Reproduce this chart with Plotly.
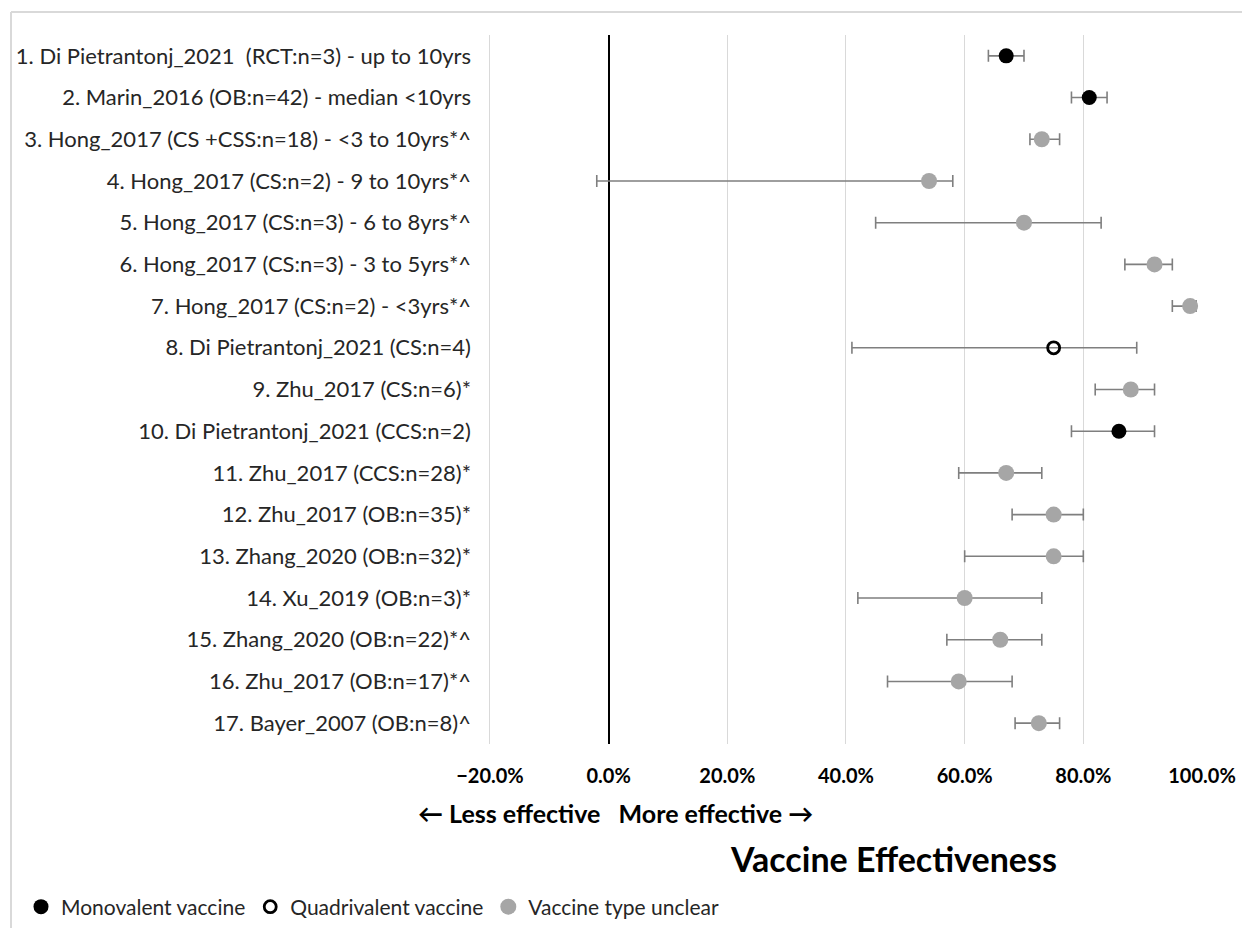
import plotly.graph_objects as go

# ---- data ----
study_labels = [
    "1. Di Pietrantonj_2021  (RCT:n=3) - up to 10yrs",
    "2. Marin_2016 (OB:n=42) - median <10yrs",
    "3. Hong_2017 (CS +CSS:n=18) - <3 to 10yrs*^",
    "4. Hong_2017 (CS:n=2) - 9 to 10yrs*^",
    "5. Hong_2017 (CS:n=3) - 6 to 8yrs*^",
    "6. Hong_2017 (CS:n=3) - 3 to 5yrs*^",
    "7. Hong_2017 (CS:n=2) - <3yrs*^",
    "8. Di Pietrantonj_2021 (CS:n=4)",
    "9. Zhu_2017 (CS:n=6)*",
    "10. Di Pietrantonj_2021 (CCS:n=2)",
    "11. Zhu_2017 (CCS:n=28)*",
    "12. Zhu_2017 (OB:n=35)*",
    "13. Zhang_2020 (OB:n=32)*",
    "14. Xu_2019 (OB:n=3)*",
    "15. Zhang_2020 (OB:n=22)*^",
    "16. Zhu_2017 (OB:n=17)*^",
    "17. Bayer_2007 (OB:n=8)^",
]
ve_pct = [67, 81, 73, 54, 70, 92, 98, 75, 88, 86, 67, 75, 75, 60, 66, 59, 72.5]
lo_pct = [64, 78, 71, -2, 45, 87, 95, 41, 82, 78, 59, 68, 60, 42, 57, 47, 68.5]
hi_pct = [70, 84, 76, 58, 83, 95, 99, 89, 92, 92, 73, 80, 80, 73, 73, 68, 76]
vaccine_type = ["Mono", "Mono", "Unclear", "Unclear", "Unclear", "Unclear", "Unclear",
                "Quad", "Unclear", "Mono", "Unclear", "Unclear", "Unclear", "Unclear",
                "Unclear", "Unclear", "Unclear"]
x_ticks = [-0.2, 0.0, 0.2, 0.4, 0.6, 0.8, 1.0]

groups = [
    ("Mono", "Monovalent vaccine", dict(symbol="circle", size=15, color="#000000")),
    ("Quad", "Quadrivalent vaccine", dict(symbol="circle-open", size=12, color="#000000",
                                          line=dict(width=2.8, color="#000000"))),
    ("Unclear", "Vaccine type unclear", dict(symbol="circle", size=16, color="#a6a6a6")),
]

FONT = "Lato"
fig = go.Figure()
for key, name, marker in groups:
    idx = [i for i, t in enumerate(vaccine_type) if t == key]
    fig.add_trace(go.Scatter(
        x=[ve_pct[i] / 100 for i in idx],
        y=[study_labels[i] for i in idx],
        mode="markers",
        name=name,
        marker=marker,
        error_x=dict(type="data", symmetric=False,
                     array=[(hi_pct[i] - ve_pct[i]) / 100 for i in idx],
                     arrayminus=[(ve_pct[i] - lo_pct[i]) / 100 for i in idx],
                     color="#7f7f7f", thickness=1.6, width=6),
    ))

W, H = 1242, 928
L, R, T, B = 487, 40, 35, 184
plot_w = W - L - R
plot_h = H - T - B

def px_x(p):
    return (p - L) / plot_w

def px_y(p):
    return (H - B - p) / plot_h

fig.update_layout(
    width=W, height=H,
    margin=dict(l=L, r=R, t=T, b=B, autoexpand=False),
    paper_bgcolor="white", plot_bgcolor="white",
    font=dict(family=FONT, color="#262626"),
    showlegend=True,
    legend=dict(orientation="h", x=px_x(21), xanchor="left", y=px_y(907), yanchor="middle",
                font=dict(size=21, family=FONT, color="#262626"),
                itemwidth=30, tracegroupgap=0, bgcolor="rgba(0,0,0,0)"),
    xaxis=dict(range=[-0.205, 1.0], tickvals=x_ticks, tickformat=".1%",
               showgrid=True, gridcolor="#d9d9d9", gridwidth=1,
               zeroline=True, zerolinecolor="#000000", zerolinewidth=2.2,
               showline=False, ticks="", ticklabelstandoff=18,
               tickfont=dict(family=FONT, size=20, color="#000000", weight="bold"),
               fixedrange=True),
    yaxis=dict(type="category", categoryorder="array", categoryarray=study_labels,
               range=[len(study_labels) - 0.5, -0.5],
               showgrid=False, zeroline=False, showline=False, ticks="",
               ticklabelstandoff=15,
               tickfont=dict(family=FONT, size=22, color="#262626"),
               fixedrange=True),
    annotations=[
        dict(text="\u2190 Less effective   More effective \u2192", xref="paper", yref="paper",
             x=px_x(615), y=px_y(813), xanchor="center", yanchor="middle", showarrow=False,
             font=dict(family=FONT, size=25, color="#000000", weight="bold")),
        dict(text="Vaccine Effectiveness", xref="paper", yref="paper",
             x=px_x(893), y=px_y(858), xanchor="center", yanchor="middle", showarrow=False,
             font=dict(family=FONT, size=34, color="#000000", weight="bold")),
    ],
    shapes=[
        # outer chart frame (left and top edges visible in the reference)
        dict(type="line", xref="paper", yref="paper", x0=px_x(11), x1=px_x(11),
             y0=px_y(12), y1=px_y(940), line=dict(color="#d9d9d9", width=2)),
        dict(type="line", xref="paper", yref="paper", x0=px_x(11), x1=px_x(1260),
             y0=px_y(12), y1=px_y(12), line=dict(color="#d9d9d9", width=2)),
    ],
)

fig.write_html("out.html")
